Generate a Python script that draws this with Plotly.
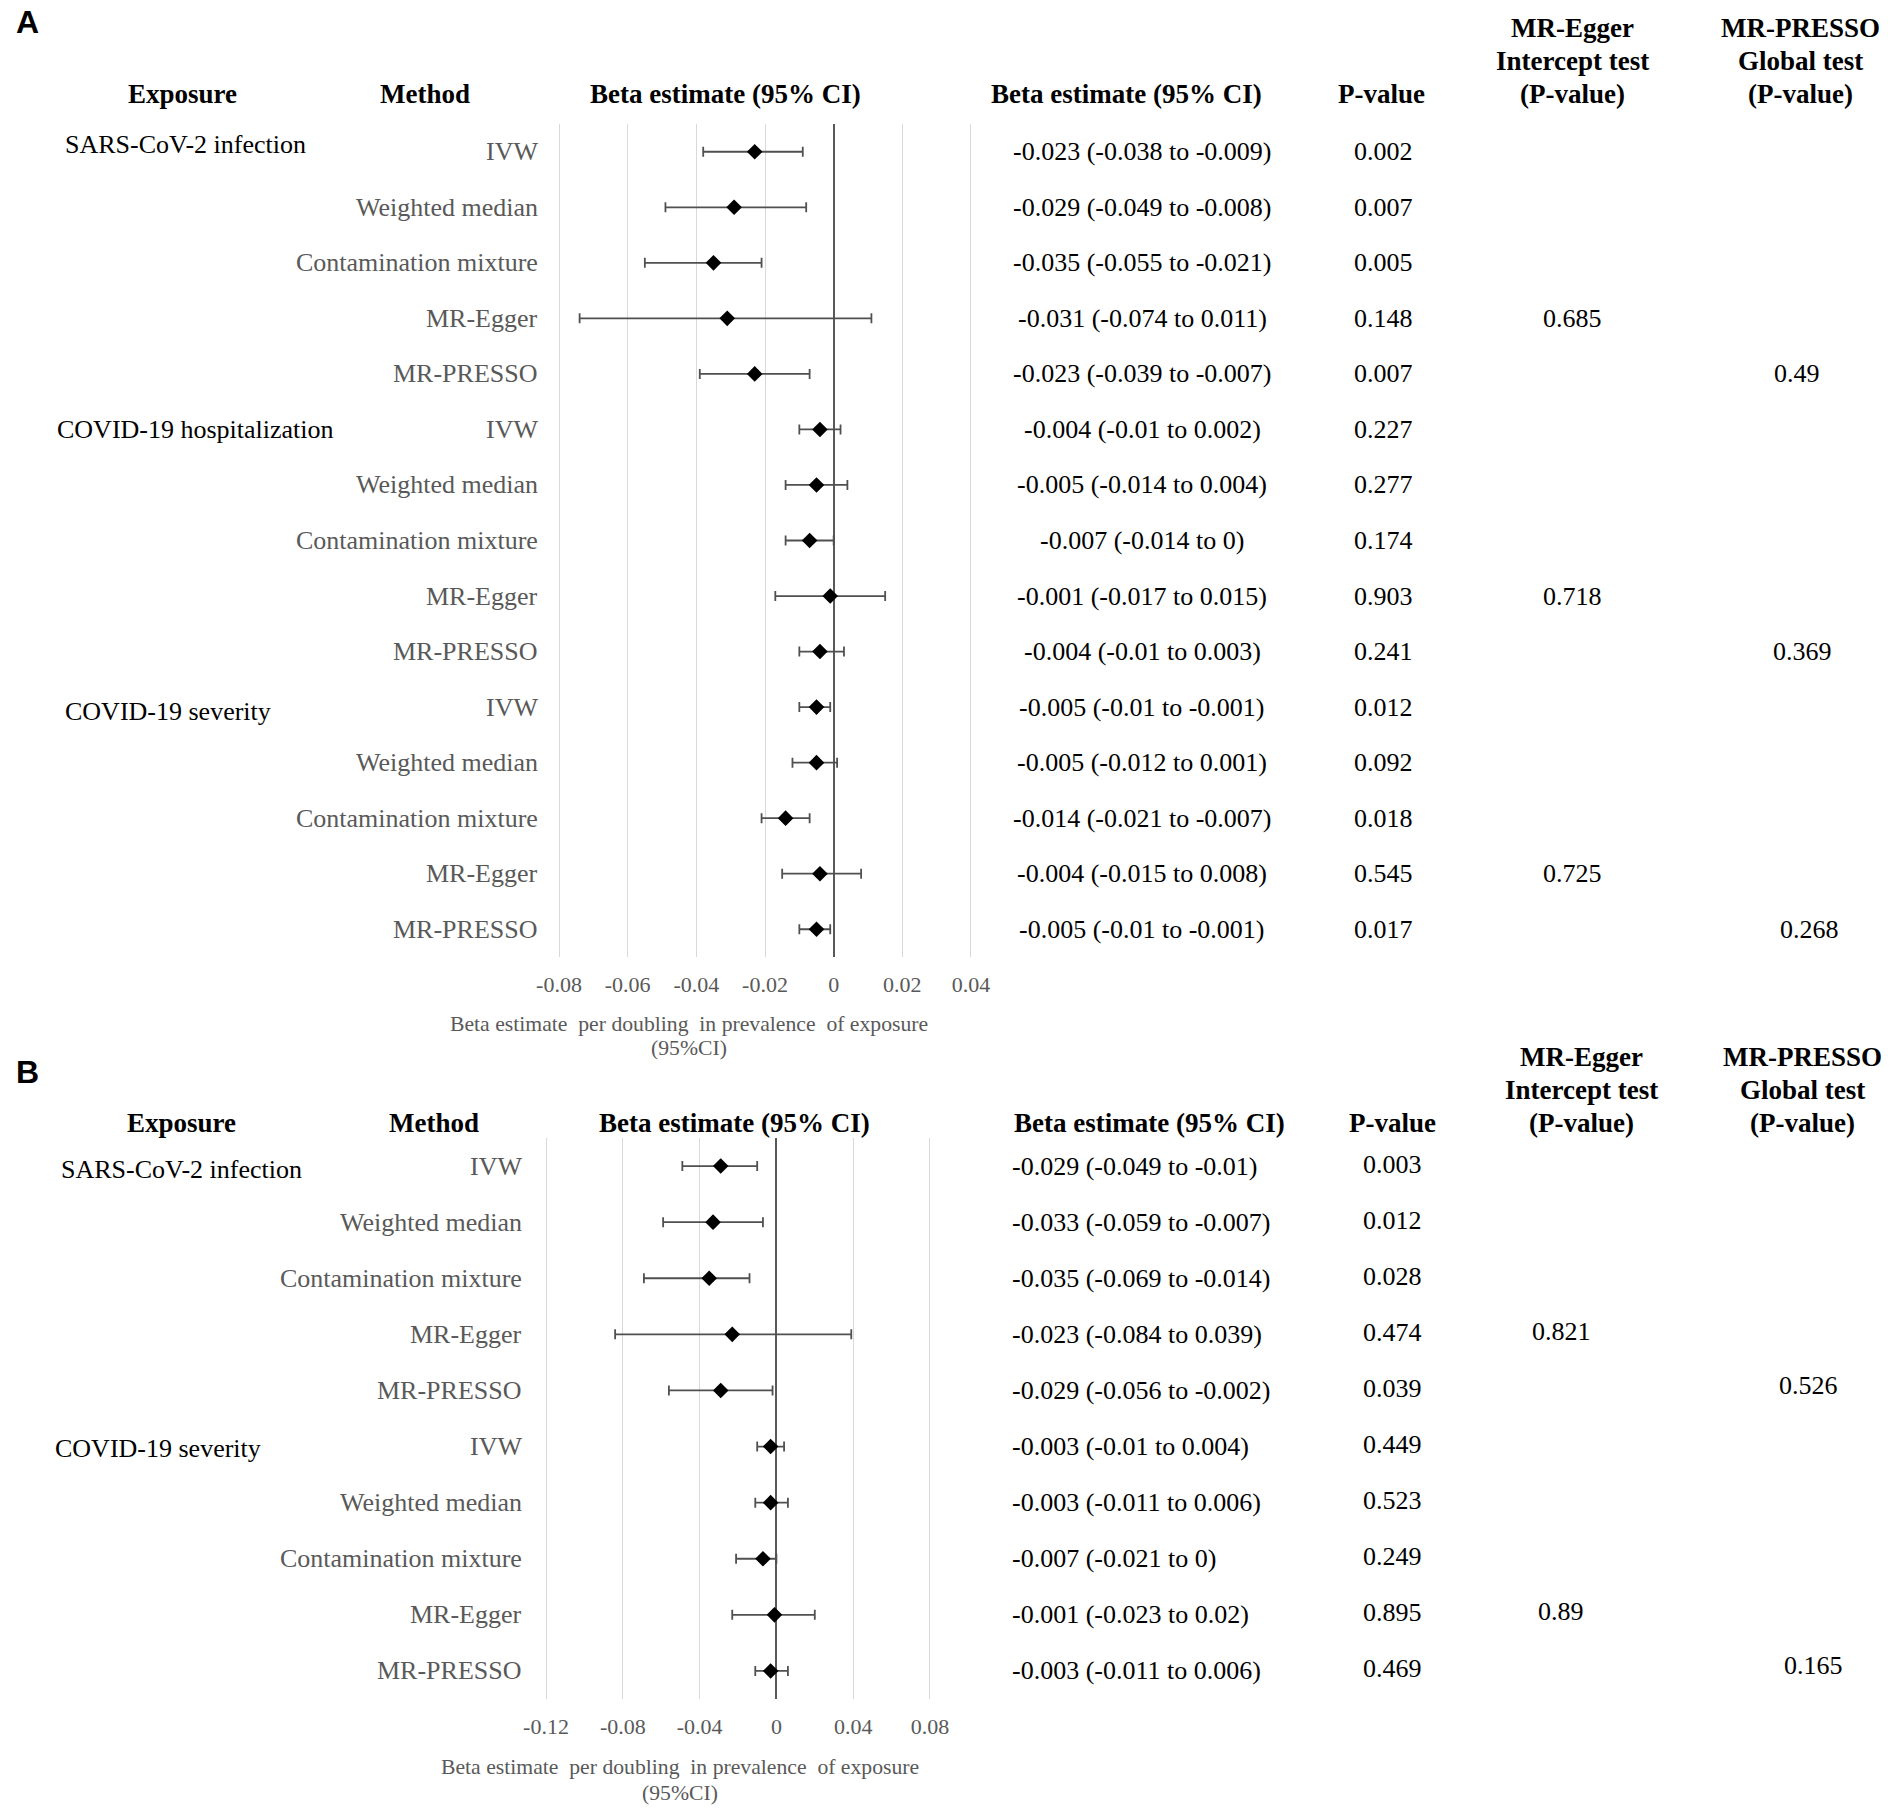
import plotly.graph_objects as go

W, H = 1902, 1814
SERIF = "Liberation Serif, Times New Roman, serif"
SANS = "Liberation Sans, Arial, sans-serif"
GRAY = "#595959"

# ---- data ----
methods = ["IVW", "Weighted median", "Contamination mixture", "MR-Egger", "MR-PRESSO"]

a_exposures = ["SARS-CoV-2 infection", "COVID-19 hospitalization", "COVID-19 severity"]
a_beta = [-0.023, -0.029, -0.035, -0.031, -0.023,
          -0.004, -0.005, -0.007, -0.001, -0.004,
          -0.005, -0.005, -0.014, -0.004, -0.005]
a_lo = [-0.038, -0.049, -0.055, -0.074, -0.039,
        -0.01, -0.014, -0.014, -0.017, -0.01,
        -0.01, -0.012, -0.021, -0.015, -0.01]
a_hi = [-0.009, -0.008, -0.021, 0.011, -0.007,
        0.002, 0.004, 0, 0.015, 0.003,
        -0.001, 0.001, -0.007, 0.008, -0.001]
a_p = [0.002, 0.007, 0.005, 0.148, 0.007,
       0.227, 0.277, 0.174, 0.903, 0.241,
       0.012, 0.092, 0.018, 0.545, 0.017]
a_egger_p = [0.685, 0.718, 0.725]
a_presso_p = [0.49, 0.369, 0.268]
a_ticks = [-0.08, -0.06, -0.04, -0.02, 0, 0.02, 0.04]

b_exposures = ["SARS-CoV-2 infection", "COVID-19 severity"]
b_beta = [-0.029, -0.033, -0.035, -0.023, -0.029,
          -0.003, -0.003, -0.007, -0.001, -0.003]
b_lo = [-0.049, -0.059, -0.069, -0.084, -0.056,
        -0.01, -0.011, -0.021, -0.023, -0.011]
b_hi = [-0.01, -0.007, -0.014, 0.039, -0.002,
        0.004, 0.006, 0, 0.02, 0.006]
b_p = [0.003, 0.012, 0.028, 0.474, 0.039,
       0.449, 0.523, 0.249, 0.895, 0.469]
b_egger_p = [0.821, 0.89]
b_presso_p = [0.526, 0.165]
b_ticks = [-0.12, -0.08, -0.04, 0, 0.04, 0.08]


def px(x):
    return x / W


def py(y):
    return 1 - y / H


def fmt(v):
    return f"{v:g}"


fig = go.Figure()
ann = []


def text(x, y, s, size=26, color="black", bold=False, anchor="center",
         yref="paper", yshift=0, family=SERIF):
    ann.append(dict(
        x=px(x), y=y if yref != "paper" else py(y), xref="paper", yref=yref,
        text=f"<b>{s}</b>" if bold else s, showarrow=False,
        xanchor=anchor, yanchor="middle", yshift=yshift,
        font=dict(family=family, size=size, color=color)))


def panel(beta, lo, hi, xa, ya):
    fig.add_trace(go.Scatter(
        x=beta, y=list(range(len(beta))), mode="markers",
        marker=dict(symbol="diamond", size=12, color="black"),
        error_x=dict(type="data", symmetric=False,
                     array=[h - b for h, b in zip(hi, beta)],
                     arrayminus=[b - l for b, l in zip(beta, lo)],
                     color="#505050", thickness=1.8, width=5),
        xaxis=xa, yaxis=ya, showlegend=False, hoverinfo="skip"))


panel(a_beta, a_lo, a_hi, "x", "y")
panel(b_beta, b_lo, b_hi, "x2", "y2")

axis_common = dict(showgrid=True, gridcolor="#d9d9d9", gridwidth=1.3,
                   zeroline=True, zerolinecolor=GRAY, zerolinewidth=2.2,
                   showline=False, ticks="", ticklabelstandoff=12,
                   automargin=False,
                   tickfont=dict(family=SERIF, size=22, color=GRAY))

# panel A axes: -0.08 at 559 px, 0.04 at 971 px
fig.update_layout(
    xaxis=dict(domain=[px(557.3), px(972.7)], range=[-0.0805, 0.0405],
               tickvals=a_ticks, ticktext=[fmt(t) for t in a_ticks],
               anchor="y", **axis_common),
    yaxis=dict(domain=[py(957), py(124)], range=[len(a_beta) - 0.5, -0.5],
               visible=False, anchor="x", automargin=False),
    xaxis2=dict(domain=[px(544.1), px(931.9)], range=[-0.1210, 0.0810],
                tickvals=b_ticks, ticktext=[fmt(t) for t in b_ticks],
                anchor="y2", **axis_common),
    yaxis2=dict(domain=[py(1699), py(1138)], range=[len(b_beta) - 0.5, -0.5],
                visible=False, anchor="x2", automargin=False),
)

# ---- panel letters ----
text(27, 22, "A", size=32, bold=True, family=SANS)
text(27, 1072, "B", size=32, bold=True, family=SANS)


# ---- headers ----
def headers(y_last, xs):
    ex, me, pb, rb, pv, eg, pr = xs
    text(ex, y_last, "Exposure", size=27, bold=True)
    text(me, y_last, "Method", size=27, bold=True)
    text(pb, y_last, "Beta estimate (95% CI)", size=27, bold=True)
    text(rb, y_last, "Beta estimate (95% CI)", size=27, bold=True)
    text(pv, y_last, "P-value", size=27, bold=True)
    for i, (l1, l2) in enumerate([("MR-Egger", "MR-PRESSO"),
                                   ("Intercept test", "Global test"),
                                   ("(P-value)", "(P-value)")]):
        yy = y_last - 33 * (2 - i)
        text(eg, yy, l1, size=27, bold=True)
        text(pr, yy, l2, size=27, bold=True)


headers(94, [182, 425, 725, 1126, 1381, 1572, 1800])
headers(1123, [181, 434, 734, 1149, 1392, 1581, 1802])

# ---- panel A rows ----
for k, name in enumerate(a_exposures):
    xs = [63, 55, 63][k]
    dy = [7, 0, -4][k]
    text(xs, 5 * k, name, anchor="left", yref="y", yshift=dy)
for i in range(len(a_beta)):
    text(540, i, methods[i % 5], color=GRAY, anchor="right", yref="y")
    text(1142, i, f"{fmt(a_beta[i])} ({fmt(a_lo[i])} to {fmt(a_hi[i])})", yref="y")
    text(1383, i, fmt(a_p[i]), yref="y")
for k in range(3):
    text(1572, 5 * k + 3, fmt(a_egger_p[k]), yref="y")
    text([1797, 1802, 1809][k], 5 * k + 4, fmt(a_presso_p[k]), yref="y")

text(689, 1024, "Beta estimate  per doubling  in prevalence  of exposure", size=21.7, color=GRAY)
text(689, 1048, "(95%CI)", size=21.7, color=GRAY)

# ---- panel B rows ----
for k, name in enumerate(b_exposures):
    xs = [59, 53][k]
    dy = [-3, -2][k]
    text(xs, 5 * k, name, anchor="left", yref="y2", yshift=dy)
for i in range(len(b_beta)):
    text(524, i, methods[i % 5], color=GRAY, anchor="right", yref="y2")
    text(1010, i, f"{fmt(b_beta[i])} ({fmt(b_lo[i])} to {fmt(b_hi[i])})",
         anchor="left", yref="y2")
    text(1392, i, fmt(b_p[i]), yref="y2", yshift=2)
for k in range(2):
    text(1561, 5 * k + 3, fmt(b_egger_p[k]), yref="y2", yshift=3)
    text([1808, 1813][k], 5 * k + 4, fmt(b_presso_p[k]), yref="y2", yshift=5)

text(680, 1767, "Beta estimate  per doubling  in prevalence  of exposure", size=21.7, color=GRAY)
text(680, 1793, "(95%CI)", size=21.7, color=GRAY)

fig.update_layout(
    width=W, height=H, margin=dict(l=0, r=0, t=0, b=0),
    paper_bgcolor="white", plot_bgcolor="white",
    annotations=ann,
)

fig.write_html(
    "out.html",
    config={"displayModeBar": False},
    post_script="document.body.style.margin='0';"
                "document.body.style.overflow='hidden';",
)
